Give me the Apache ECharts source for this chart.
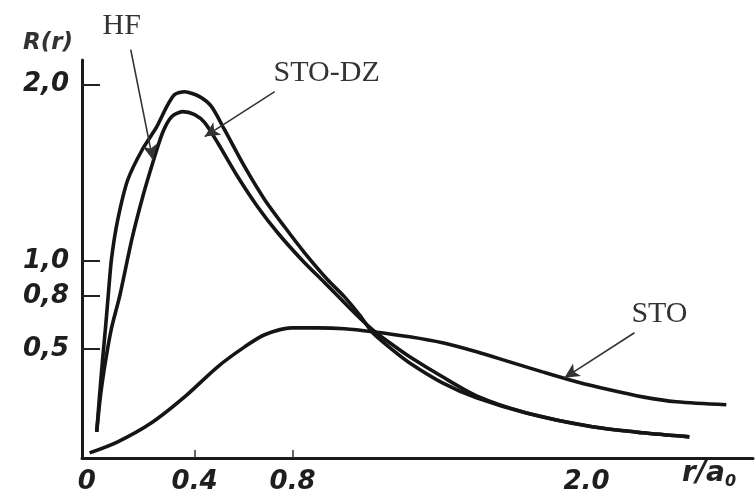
<!DOCTYPE html>
<html><head><meta charset="utf-8">
<script src="https://cdn.jsdelivr.net/npm/echarts@6/dist/echarts.min.js"></script>
<style>html,body{margin:0;padding:0;background:#fff}#c{width:755px;height:504px}</style>
</head><body><div id="c"></div>
<script>
// x tick labels and y tick labels
const xTickLabels = [0, 0.4, 0.8, 2.0];
const xTickMarks = [0.4, 0.8];
const yTickLabels = [0.5, 0.8, 1.0, 2.0];

// curves: [r/a0, R(r)]
const hfX = [0,0.012,0.024,0.037,0.049,0.061,0.086,0.127,0.188,0.245,0.286,0.318,0.359,0.420,0.469,0.522,0.604,0.686,0.767,0.849,0.943,1.012,1.073,1.127,1.208,1.278,1.412,1.551,1.755,2.024,2.229,2.420];
const hfY = [0.028,0.239,0.438,0.636,0.835,1.017,1.233,1.460,1.636,1.760,1.875,1.943,1.960,1.932,1.875,1.744,1.534,1.347,1.193,1.045,0.892,0.795,0.693,0.591,0.494,0.420,0.307,0.222,0.136,0.057,0.023,0.000];

const dzX = [0,0.016,0.037,0.061,0.094,0.143,0.188,0.229,0.269,0.306,0.351,0.400,0.441,0.494,0.576,0.657,0.739,0.837,0.931,1.012,1.073,1.127,1.208,1.278,1.412,1.551,1.755,2.024,2.229,2.420];
const dzY = [0.028,0.239,0.438,0.620,0.800,1.119,1.364,1.557,1.727,1.818,1.847,1.830,1.784,1.670,1.477,1.307,1.159,1.006,0.875,0.761,0.676,0.608,0.523,0.455,0.341,0.233,0.136,0.057,0.023,0.000];

const stoX = [-0.029,0.086,0.224,0.359,0.494,0.604,0.686,0.796,0.902,1.012,1.127,1.278,1.412,1.551,1.686,1.820,1.959,2.094,2.229,2.367,2.571];
const stoY = [-0.091,-0.028,0.080,0.227,0.398,0.511,0.580,0.619,0.619,0.614,0.597,0.568,0.534,0.483,0.426,0.369,0.313,0.267,0.227,0.199,0.182];

// annotations
const labelNames = ['HF', 'STO-DZ', 'STO'];
const labelPos = [[0.102, 2.335], [0.939, 2.063], [2.298, 0.699]];
const arrowFrom = [[0.139, 2.199], [0.727, 1.960], [2.196, 0.591]];
const arrowTo = [[0.229, 1.574], [0.441, 1.705], [1.910, 0.335]];

const zip = (a, b) => a.map((v, i) => [v, b[i]]);
const ink = '#151515';
const lineStyle = {color: ink, width: 3.6};
const axisFont = {fontFamily: 'DejaVu Sans', fontStyle: 'italic', fontWeight: 'bold', fontSize: 26, color: '#1e1e1e'};

// same scale, second grid spanning the full height so annotations above the axis top are kept
const yMin = -0.12, yMax = 2.14, pxPerY = 398 / (yMax - yMin);

const chart = echarts.init(document.getElementById('c'), null, {renderer: 'canvas'});
chart.setOption({
  animation: false,
  backgroundColor: '#fff',
  grid: [
    {left: 82, top: 60, width: 671, height: 398, containLabel: false},
    {left: 82, top: 0, width: 671, height: 458, containLabel: false}
  ],
  xAxis: [{
    type: 'value', min: -0.06, max: 2.68,
    axisLine: {show: true, onZero: false, lineStyle: {color: '#1a1a1a', width: 3}},
    splitLine: {show: false},
    axisTick: {show: true, inside: true, length: 8, customValues: xTickMarks, lineStyle: {color: '#333', width: 1.5}},
    axisLabel: {
      customValues: xTickLabels, margin: 11, ...axisFont,
      formatter: v => v === 0 ? '{z|0}' : v.toFixed(1),
      rich: {z: {...axisFont, padding: [0, 20, 0, 0]}}
    }
  }, {
    type: 'value', gridIndex: 1, min: -0.06, max: 2.68, show: false
  }],
  yAxis: [{
    type: 'value', min: yMin, max: yMax,
    name: 'R(r)', nameLocation: 'end', nameGap: 5,
    nameTextStyle: {fontFamily: 'DejaVu Sans', fontStyle: 'italic', fontWeight: 'bold', fontSize: 23, color: '#333', align: 'right', verticalAlign: 'bottom', padding: [0, 9, 0, 0]},
    axisLine: {show: true, onZero: false, lineStyle: {color: '#1a1a1a', width: 3}},
    splitLine: {show: false},
    axisTick: {show: true, inside: true, length: 18, customValues: yTickLabels, lineStyle: {color: '#222', width: 2}},
    axisLabel: {customValues: yTickLabels, margin: 13, ...axisFont, formatter: v => v.toFixed(1).replace('.', ',')}
  }, {
    type: 'value', gridIndex: 1, min: yMin, max: yMax + 60 / pxPerY, show: false
  }],
  graphic: [{
    type: 'text', left: 682, top: 460,
    style: {
      text: '{a|r/a}{s|0}',
      rich: {
        a: {fontFamily: 'DejaVu Sans', fontStyle: 'italic', fontWeight: 'bold', fontSize: 28, fill: '#222'},
        s: {fontFamily: 'DejaVu Sans', fontStyle: 'italic', fontWeight: 'bold', fontSize: 16, fill: '#222', padding: [16, 0, 0, 0]}
      }
    }
  }],
  series: [
    {name: 'HF', type: 'line', data: zip(hfX, hfY), showSymbol: false, smooth: 0.25, lineStyle, silent: true},
    {name: 'STO-DZ', type: 'line', data: zip(dzX, dzY), showSymbol: false, smooth: 0.25, lineStyle, silent: true},
    {name: 'STO', type: 'line', data: zip(stoX, stoY), showSymbol: false, smooth: 0.3, lineStyle, silent: true},
    {name: 'annotations', type: 'line', xAxisIndex: 1, yAxisIndex: 1, data: [], silent: true, clip: false,
      markLine: {
        silent: true, symbol: ['none', 'arrow'], symbolSize: [11, 15],
        lineStyle: {color: '#333', width: 1.6, type: 'solid'},
        label: {show: false},
        data: arrowFrom.map((f, i) => [{coord: f}, {coord: arrowTo[i]}])
      },
      markPoint: {
        silent: true, symbol: 'circle', symbolSize: 1,
        itemStyle: {color: 'rgba(0,0,0,0)'},
        label: {show: true, position: 'inside', formatter: '{b}', fontFamily: 'Liberation Serif', fontSize: 30, color: '#333'},
        data: labelNames.map((n, i) => ({name: n, coord: labelPos[i]}))
      }
    }
  ]
});
</script></body></html>
